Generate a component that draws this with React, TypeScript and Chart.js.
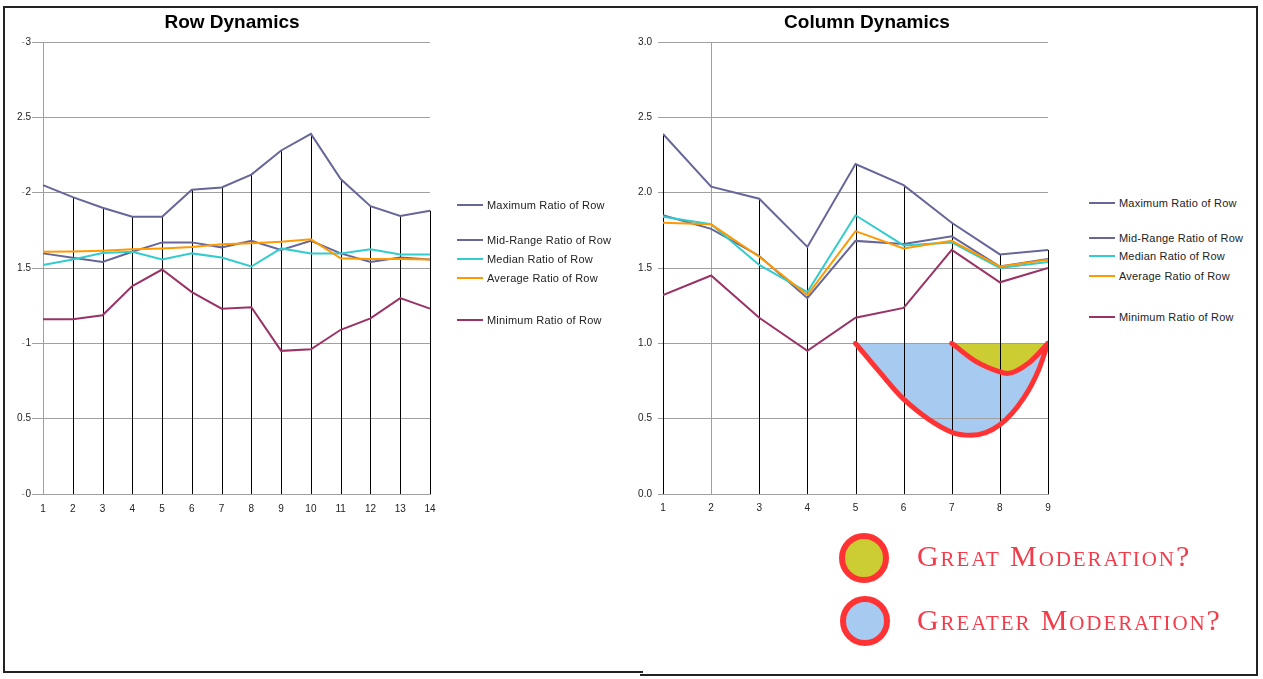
import React, { useEffect, useRef } from 'react';
import { Chart, registerables } from 'chart.js';
Chart.register(...registerables);

// ---------- data ----------
const seriesNames = [
  'Maximum Ratio of Row',
  'Mid-Range Ratio of Row',
  'Median Ratio of Row',
  'Average Ratio of Row',
  'Minimum Ratio of Row',
];
const seriesColors = ['#666699', '#666699', '#33cccc', '#ff9900', '#993366'];

const rowCategories = ['1', '2', '3', '4', '5', '6', '7', '8', '9', '10', '11', '12', '13', '14'];
const rowMaximum = [2.05, 1.97, 1.9, 1.84, 1.84, 2.02, 2.035, 2.12, 2.28, 2.39, 2.09, 1.91, 1.845, 1.88];
const rowMidRange = [1.597, 1.568, 1.54, 1.608, 1.67, 1.67, 1.637, 1.68, 1.62, 1.68, 1.597, 1.54, 1.57, 1.557];
const rowMedian = [1.52, 1.557, 1.6, 1.608, 1.557, 1.597, 1.57, 1.51, 1.63, 1.597, 1.597, 1.624, 1.59, 1.59];
const rowAverage = [1.608, 1.61, 1.615, 1.624, 1.63, 1.64, 1.657, 1.664, 1.675, 1.69, 1.564, 1.56, 1.56, 1.557];
const rowMinimum = [1.16, 1.16, 1.186, 1.38, 1.49, 1.34, 1.23, 1.24, 0.95, 0.96, 1.09, 1.166, 1.3, 1.23];
const rowYTickLabels = ['0', '0.5', '1', '1.5', '2', '2.5', '3'];

const colCategories = [1, 2, 3, 4, 5, 6, 7, 8, 9];
const colMaximum = [2.39, 2.04, 1.96, 1.64, 2.19, 2.05, 1.8, 1.59, 1.62];
const colMidRange = [1.85, 1.76, 1.58, 1.3, 1.68, 1.66, 1.71, 1.51, 1.56];
const colMedian = [1.84, 1.79, 1.52, 1.34, 1.85, 1.65, 1.67, 1.5, 1.54];
const colAverage = [1.8, 1.79, 1.575, 1.32, 1.745, 1.63, 1.68, 1.51, 1.555];
const colMinimum = [1.32, 1.45, 1.17, 0.95, 1.17, 1.235, 1.62, 1.405, 1.5];
const colYTickLabels = ['0.0', '0.5', '1.0', '1.5', '2.0', '2.5', '3.0'];

const greaterModX = [5, 5.5, 6, 7, 7.4, 8, 8.5, 8.8, 9];
const greaterModY = [1.0, 0.81, 0.63, 0.41, 0.39, 0.46, 0.64, 0.82, 1.0];
const greatModX = [7, 7.5, 8, 8.15, 8.6, 9];
const greatModY = [1.0, 0.88, 0.81, 0.8, 0.87, 1.0];

const annotationLabels = ['Great Moderation?', 'Greater Moderation?'];

// ---------- helpers ----------
const GRID = '#a0a0a0';
const tickFont = { family: 'Liberation Sans', size: 10 };

const dropLines = {
  id: 'dropLines',
  beforeDatasetsDraw(chart: any, _args: any, opts: any) {
    const { ctx } = chart;
    const xs = chart.scales.x;
    const ys = chart.scales.y;
    const vals: number[] = opts.values || [];
    const xv: any[] = opts.xs || [];
    const skip: number[] = opts.skip || [];
    ctx.save();
    ctx.strokeStyle = '#000';
    ctx.lineWidth = 1;
    vals.forEach((v, i) => {
      if (skip.includes(i)) return;
      const px = Math.round(xs.getPixelForValue(xv[i])) + 0.5;
      ctx.beginPath();
      ctx.moveTo(px, ys.getPixelForValue(v));
      ctx.lineTo(px, ys.getPixelForValue(0));
      ctx.stroke();
    });
    ctx.restore();
  },
};

function RowChart() {
  const ref = useRef<HTMLCanvasElement>(null);
  useEffect(() => {
    const series = [rowMaximum, rowMidRange, rowMedian, rowAverage, rowMinimum];
    const chart = new Chart(ref.current as HTMLCanvasElement, {
      type: 'line',
      data: {
        labels: rowCategories,
        datasets: series.map((d, i) => ({
          label: seriesNames[i],
          data: d,
          borderColor: seriesColors[i],
          backgroundColor: seriesColors[i],
          borderWidth: 2,
          pointRadius: 0,
          tension: 0,
          fill: false,
          order: 4 - i,
        })),
      },
      options: {
        animation: false,
        responsive: false,
        events: [],
        layout: { padding: { left: 0, right: 10, top: 42, bottom: 155 } },
        plugins: {
          legend: { display: false },
          tooltip: { enabled: false },
          dropLines: { values: rowMaximum, xs: rowCategories.map((_, i) => i), skip: [0] },
        } as any,
        scales: {
          x: {
            type: 'category',
            offset: false,
            grid: { drawOnChartArea: false, drawTicks: true, tickLength: 9, tickColor: 'rgba(0,0,0,0)' },
            border: { display: true, color: GRID },
            ticks: { font: tickFont, color: '#222', padding: 0, maxRotation: 0, autoSkip: false },
            afterFit: (s: any) => { s.height = 30; },
          },
          y: {
            min: 0,
            max: 3,
            grid: { color: GRID, tickLength: 21 },
            border: { display: true, color: GRID },
            ticks: {
              stepSize: 0.5,
              font: tickFont,
              color: '#222',
              padding: -9,
              showLabelBackdrop: true,
              backdropColor: '#fff',
              backdropPadding: 1,
              callback: (_v: any, i: number) => rowYTickLabels[i],
            },
            afterFit: (s: any) => { s.width = 43; },
          },
        },
      } as any,
      plugins: [dropLines],
    });
    return () => chart.destroy();
  }, []);
  return <canvas ref={ref} width={440} height={679} />;
}

function ColChart() {
  const ref = useRef<HTMLCanvasElement>(null);
  useEffect(() => {
    const series = [colMaximum, colMidRange, colMedian, colAverage, colMinimum];
    const datasets: any[] = series.map((d, i) => ({
      label: seriesNames[i],
      data: d.map((v, k) => ({ x: colCategories[k], y: v })),
      borderColor: seriesColors[i],
      backgroundColor: seriesColors[i],
      borderWidth: 2,
      pointRadius: 0,
      tension: 0,
      fill: false,
      order: 4 - i,
    }));
    datasets.push({
      label: annotationLabels[1],
      data: greaterModX.map((x, k) => ({ x, y: greaterModY[k] })),
      borderColor: '#ff3333',
      backgroundColor: '#a6caf0',
      borderWidth: 5,
      borderCapStyle: 'round',
      pointRadius: 0,
      cubicInterpolationMode: 'monotone',
      fill: { value: 1 },
      order: 10,
    });
    datasets.push({
      label: annotationLabels[0],
      data: greatModX.map((x, k) => ({ x, y: greatModY[k] })),
      borderColor: '#ff3333',
      backgroundColor: '#cccc33',
      borderWidth: 5,
      borderCapStyle: 'round',
      pointRadius: 0,
      cubicInterpolationMode: 'monotone',
      fill: { value: 1 },
      order: 9,
    });
    const chart = new Chart(ref.current as HTMLCanvasElement, {
      type: 'line',
      data: { datasets },
      options: {
        animation: false,
        responsive: false,
        events: [],
        layout: { padding: { left: 0, right: 12, top: 42, bottom: 155 } },
        plugins: {
          legend: { display: false },
          tooltip: { enabled: false },
          filler: { drawTime: 'beforeDraw' },
          dropLines: { values: colMaximum, xs: colCategories, skip: [1] },
        } as any,
        scales: {
          x: {
            type: 'linear',
            min: 1,
            max: 9,
            grid: {
              drawTicks: false,
              color: (c: any) => (c.tick && c.tick.value === 2 ? GRID : 'rgba(0,0,0,0)'),
            },
            border: { display: true, color: GRID },
            ticks: { stepSize: 1, font: tickFont, color: '#222', padding: 8, maxRotation: 0 },
            afterFit: (s: any) => { s.height = 30; },
          },
          y: {
            min: 0,
            max: 3,
            grid: { color: GRID, tickLength: 5 },
            border: { display: false },
            ticks: {
              stepSize: 0.5,
              font: tickFont,
              color: '#222',
              padding: 6,
              callback: (_v: any, i: number) => colYTickLabels[i],
            },
            afterFit: (s: any) => { s.width = 63; },
          },
        },
      } as any,
      plugins: [dropLines],
    });
    return () => chart.destroy();
  }, []);
  return <canvas ref={ref} width={460} height={679} />;
}

function Legend({ left, tops }: { left: number; tops: number[] }) {
  return (
    <>
      {seriesNames.map((n, i) => (
        <div key={n} style={{ position: 'absolute', left, top: tops[i] - 7, height: 14, display: 'flex', alignItems: 'center', whiteSpace: 'nowrap' }}>
          <div style={{ width: 26, height: 2.5, background: seriesColors[i], marginRight: 4 }} />
          <span style={{ fontFamily: 'Liberation Sans', fontSize: 11, letterSpacing: 0.2, color: '#222' }}>{n}</span>
        </div>
      ))}
    </>
  );
}

const line = (l: number, t: number, w: number, h: number) => (
  <div style={{ position: 'absolute', left: l, top: t, width: w, height: h, background: '#222' }} />
);

export default function App() {
  const titleStyle: React.CSSProperties = {
    position: 'absolute', top: 10, fontFamily: 'Liberation Sans', fontWeight: 700, fontSize: 19,
    color: '#000', textAlign: 'center', width: 300, lineHeight: '24px',
  };
  const annoText: React.CSSProperties = {
    position: 'absolute', left: 917, fontFamily: 'Liberation Serif', fontSize: 30, fontVariant: 'small-caps',
    letterSpacing: 1.9, color: '#f23c4b', lineHeight: '30px', whiteSpace: 'nowrap',
  };
  const circle = (cx: number, cy: number, fill: string) => (
    <div style={{ position: 'absolute', left: cx - 25, top: cy - 25, width: 50, height: 50, boxSizing: 'border-box', borderRadius: '50%', border: '6px solid #ff3333', background: fill }} />
  );
  return (
    <div style={{ position: 'absolute', left: 0, top: 0, width: 1263, height: 679, background: '#fff', overflow: 'hidden' }}>
      <div style={{ position: 'absolute', left: 0, top: 0 }}><RowChart /></div>
      <div style={{ position: 'absolute', left: 600, top: 0 }}><ColChart /></div>
      <div style={{ ...titleStyle, left: 232 - 150 }}>Row Dynamics</div>
      <div style={{ ...titleStyle, left: 867 - 150 }}>Column Dynamics</div>
      <Legend left={457} tops={[205, 240, 259, 278, 320]} />
      <Legend left={1089} tops={[203, 238, 256, 276, 317]} />
      {circle(864, 558, '#cccc33')}
      {circle(865, 621, '#a6caf0')}
      <div style={{ ...annoText, top: 541 }}>{annotationLabels[0]}</div>
      <div style={{ ...annoText, top: 605 }}>{annotationLabels[1]}</div>
      {line(3, 6, 1255, 2)}
      {line(3, 6, 2, 667)}
      {line(3, 671, 640, 2)}
      {line(640, 674, 618, 2)}
      {line(1256, 6, 2, 670)}
    </div>
  );
}
